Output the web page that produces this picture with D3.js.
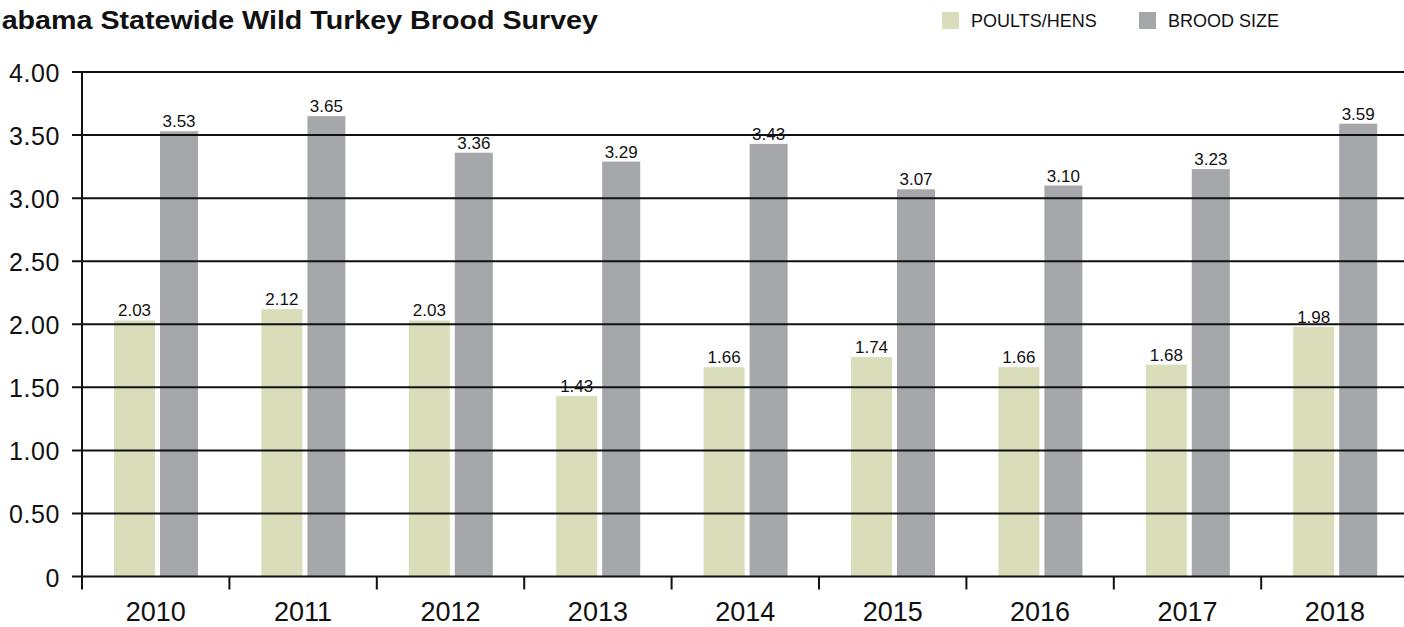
<!DOCTYPE html>
<html>
<head>
<meta charset="utf-8">
<script src="https://cdn.jsdelivr.net/npm/d3@7"></script>
<style>
  body { margin: 0; background: #fff; }
  text { font-family: "Liberation Sans", Arial, Helvetica, sans-serif; fill: #111; }
</style>
</head>
<body>
<script>
var svgWidth = 1404;
var svgHeight = 627;

// chart data
var years = ["2010", "2011", "2012", "2013", "2014", "2015", "2016", "2017", "2018"];
var poultsHens = [2.03, 2.12, 2.03, 1.43, 1.66, 1.74, 1.66, 1.68, 1.98];
var broodSize = [3.53, 3.65, 3.36, 3.29, 3.43, 3.07, 3.10, 3.23, 3.59];
var yTicks = [0, 0.5, 1, 1.5, 2, 2.5, 3, 3.5, 4];
var seriesNames = ["POULTS/HENS", "BROOD SIZE"];
var seriesColors = ["#d9ddb9", "#a6a7aa"];

var axisX = 82;
var bandW = 147.4;

var svg = d3.select("body")
  .append("svg")
  .attr("width", svgWidth)
  .attr("height", svgHeight);

var xScale = d3.scaleBand()
  .domain(years)
  .range([axisX, axisX + bandW * years.length])
  .paddingInner(0)
  .paddingOuter(0);

var yScale = d3.scaleLinear()
  .domain([0, 4])
  .range([576.5, 72]);

// bars
var greenOff = 32, greenW = 41, grayOff = 78, grayW = 38;

svg.append("g").selectAll("rect")
  .data(years)
  .enter().append("rect")
  .attr("x", function(d) { return xScale(d) + greenOff; })
  .attr("y", function(d, i) { return yScale(poultsHens[i]); })
  .attr("width", greenW)
  .attr("height", function(d, i) { return yScale(0) - yScale(poultsHens[i]); })
  .attr("fill", seriesColors[0]);

svg.append("g").selectAll("rect")
  .data(years)
  .enter().append("rect")
  .attr("x", function(d) { return xScale(d) + grayOff; })
  .attr("y", function(d, i) { return yScale(broodSize[i]); })
  .attr("width", grayW)
  .attr("height", function(d, i) { return yScale(0) - yScale(broodSize[i]); })
  .attr("fill", seriesColors[1]);

// gridlines on top of bars
svg.append("g").selectAll("line")
  .data(yTicks)
  .enter().append("line")
  .attr("x1", axisX - 10)
  .attr("x2", svgWidth)
  .attr("y1", function(d) { return yScale(d); })
  .attr("y2", function(d) { return yScale(d); })
  .attr("stroke", "#111")
  .attr("stroke-width", 2);

// y axis line
svg.append("line")
  .attr("x1", axisX).attr("x2", axisX)
  .attr("y1", yScale(4) - 1).attr("y2", yScale(0) + 13)
  .attr("stroke", "#111").attr("stroke-width", 2);

// x ticks at band boundaries
svg.append("g").selectAll("line")
  .data(years.slice(1))
  .enter().append("line")
  .attr("x1", function(d) { return xScale(d); })
  .attr("x2", function(d) { return xScale(d); })
  .attr("y1", yScale(0))
  .attr("y2", yScale(0) + 13)
  .attr("stroke", "#111").attr("stroke-width", 2);

// y labels
svg.append("g").selectAll("text")
  .data(yTicks)
  .enter().append("text")
  .attr("x", 60)
  .attr("y", function(d) { return yScale(d) + 10; })
  .attr("text-anchor", "end")
  .attr("font-size", 25)
  .attr("letter-spacing", 0.6)
  .text(function(d) { return d === 0 ? "0" : d3.format(".2f")(d); });

// x labels
svg.append("g").selectAll("text")
  .data(years)
  .enter().append("text")
  .attr("x", function(d) { return xScale(d) + xScale.bandwidth() / 2; })
  .attr("y", 621)
  .attr("text-anchor", "middle")
  .attr("font-size", 27)
  .text(function(d) { return d; });

// value labels
svg.append("g").selectAll("text")
  .data(years)
  .enter().append("text")
  .attr("x", function(d) { return xScale(d) + greenOff + greenW / 2; })
  .attr("y", function(d, i) { return yScale(poultsHens[i]) - 4; })
  .attr("text-anchor", "middle")
  .attr("font-size", 17)
  .text(function(d, i) { return poultsHens[i].toFixed(2); });

svg.append("g").selectAll("text")
  .data(years)
  .enter().append("text")
  .attr("x", function(d) { return xScale(d) + grayOff + grayW / 2; })
  .attr("y", function(d, i) { return yScale(broodSize[i]) - 4; })
  .attr("text-anchor", "middle")
  .attr("font-size", 17)
  .text(function(d, i) { return broodSize[i].toFixed(2); });

// title (cropped on the left like the original)
svg.append("text")
  .attr("x", -27)
  .attr("y", 29)
  .attr("font-size", 25)
  .attr("font-weight", "bold")
  .attr("textLength", 625)
  .attr("lengthAdjust", "spacingAndGlyphs")
  .text("Alabama Statewide Wild Turkey Brood Survey");

// legend
var legendX = [942, 1139];
var legend = svg.append("g").selectAll("g")
  .data(seriesNames)
  .enter().append("g")
  .attr("transform", function(d, i) { return "translate(" + legendX[i] + ",12)"; });

legend.append("rect")
  .attr("width", 17).attr("height", 17)
  .attr("fill", function(d, i) { return seriesColors[i]; });

legend.append("text")
  .attr("x", 29)
  .attr("y", 15)
  .attr("font-size", 18)
  .text(function(d) { return d; });
</script>
</body>
</html>
